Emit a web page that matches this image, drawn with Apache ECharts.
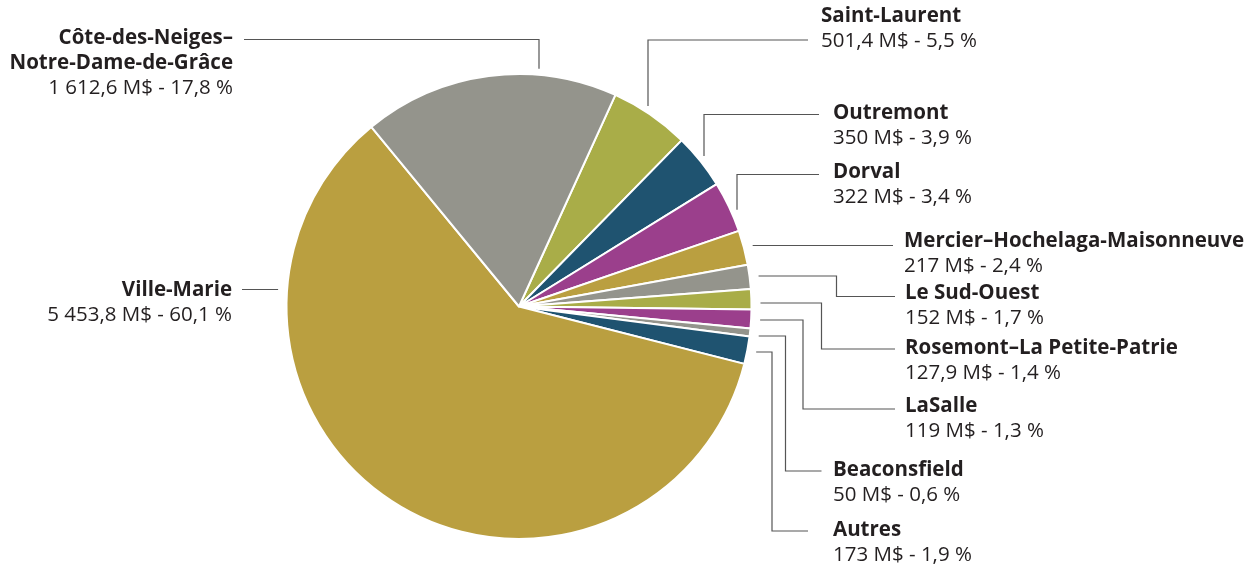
<!DOCTYPE html>
<html>
<head>
<meta charset="utf-8">
<script src="https://cdn.jsdelivr.net/npm/echarts@6/dist/echarts.min.js"></script>
<style>
html, body { margin: 0; padding: 0; background: #fff; }
#chart { width: 1255px; height: 567px; }
</style>
</head>
<body>
<div id="chart"></div>
<script>
// données (M$) - dans l'ordre horaire à partir de Saint-Laurent
var names = ['Saint-Laurent', 'Outremont', 'Dorval', 'Mercier–Hochelaga-Maisonneuve', 'Le Sud-Ouest',
  'Rosemont–La Petite-Patrie', 'LaSalle', 'Beaconsfield', 'Autres', 'Ville-Marie',
  'Côte-des-Neiges–\nNotre-Dame-de-Grâce']
var values = [501.4, 350, 322, 217, 152, 127.9, 119, 50, 173, 5453.8, 1612.6]
var percents = [5.5, 3.9, 3.4, 2.4, 1.7, 1.4, 1.3, 0.6, 1.9, 60.1, 17.8]

var colors = ['#a9ad48', '#1f5370', '#9b3f8c', '#ba9f40', '#94948c', '#a9ad48',
  '#9b3f8c', '#94948c', '#1f5370', '#ba9f40', '#94948c']

// placement des étiquettes et des lignes de rappel
var CX = 519, CY = 306.5, R = 232.5, LH = 25, FS = 20.5
var labelPos = [
  { x: 821, y: 16, align: 'left', type: 'v', kx: 648, ly: 40, ex: 808 },
  { x: 833, y: 113, align: 'left', type: 'v', kx: 704, ly: 114.5, ex: 819 },
  { x: 833, y: 172, align: 'left', type: 'v', kx: 737, ly: 174.5, ex: 819 },
  { x: 904, y: 241, align: 'left', type: 'h', sy: 245.5, ex: 893 },
  { x: 905, y: 293, align: 'left', type: 'hv', sy: 276, kx: 836.5, ly: 296.5, ex: 895 },
  { x: 905, y: 348, align: 'left', type: 'hv', sy: 303, kx: 821.5, ly: 349, ex: 895 },
  { x: 905, y: 406, align: 'left', type: 'hv', sy: 320, kx: 803, ly: 409, ex: 895 },
  { x: 833, y: 470, align: 'left', type: 'hv', sy: 336, kx: 785.5, ly: 471, ex: 821.5 },
  { x: 833, y: 530, align: 'left', type: 'hv', sy: 352, kx: 772, ly: 531, ex: 808 },
  { x: 232, y: 290, align: 'right', type: 'h', sy: 289.5, ex: 242 },
  { x: 233, y: 38, align: 'right', type: 'v', kx: 539, ly: 39.5, ex: 244 }
]

function fmtNum(v) {
  var s = String(v).split('.')
  var ent = s[0].replace(/\B(?=(\d{3})+(?!\d))/g, ' ')
  return s.length > 1 ? ent + ',' + s[1] : ent
}

function linePoints(p) {
  var side = p.align === 'left' ? 1 : -1
  var pts = []
  if (p.type === 'v') {
    var sy = CY - Math.sqrt(Math.pow(R + 6, 2) - Math.pow(p.kx - CX, 2))
    pts.push([p.kx, sy], [p.kx, p.ly], [p.ex, p.ly])
  } else {
    var sx = CX + side * Math.sqrt(Math.pow(R + 9, 2) - Math.pow(p.sy - CY, 2))
    pts.push([sx, p.sy])
    if (p.type === 'hv') {
      pts.push([p.kx, p.sy], [p.kx, p.ly], [p.ex, p.ly])
    } else {
      pts.push([p.ex, p.sy])
    }
  }
  return pts
}

var data = []
for (var i = 0; i < names.length; i++) {
  data.push({
    name: names[i],
    value: values[i],
    itemStyle: { color: colors[i] }
  })
}

var chart = echarts.init(document.getElementById('chart'))
chart.setOption({
  animation: false,
  series: [
    {
      type: 'pie',
      center: [CX, CY],
      radius: R,
      startAngle: 65.5,
      clockwise: true,
      avoidLabelOverlap: false,
      data: data,
      itemStyle: {
        borderColor: '#fff',
        borderWidth: 2
      },
      emphasis: { disabled: true },
      label: {
        show: true,
        position: 'outside',
        fontFamily: 'Open Sans',
        formatter: function (params) {
          var lines = params.name.split('\n').map(function (t) { return '{b|' + t + '}' })
          var pct = String(percents[params.dataIndex]).replace('.', ',')
          lines.push('{v|' + fmtNum(params.value) + ' M$ - ' + pct + ' %}')
          return lines.join('\n')
        },
        rich: {
          b: { fontFamily: 'Open Sans', fontWeight: 'bold', fontSize: FS, lineHeight: LH, color: '#231f20' },
          v: { fontFamily: 'Open Sans', fontSize: FS, lineHeight: LH, color: '#231f20' }
        }
      },
      labelLine: {
        show: true,
        lineStyle: { color: '#555', width: 1.2 }
      },
      labelLayout: function (params) {
        var p = labelPos[params.dataIndex]
        return {
          x: p.x,
          y: p.y - LH / 2,
          align: p.align,
          verticalAlign: 'top',
          labelLinePoints: linePoints(p)
        }
      }
    }
  ]
})
window.onresize = function () {
  chart.resize()
}
</script>
</body>
</html>
